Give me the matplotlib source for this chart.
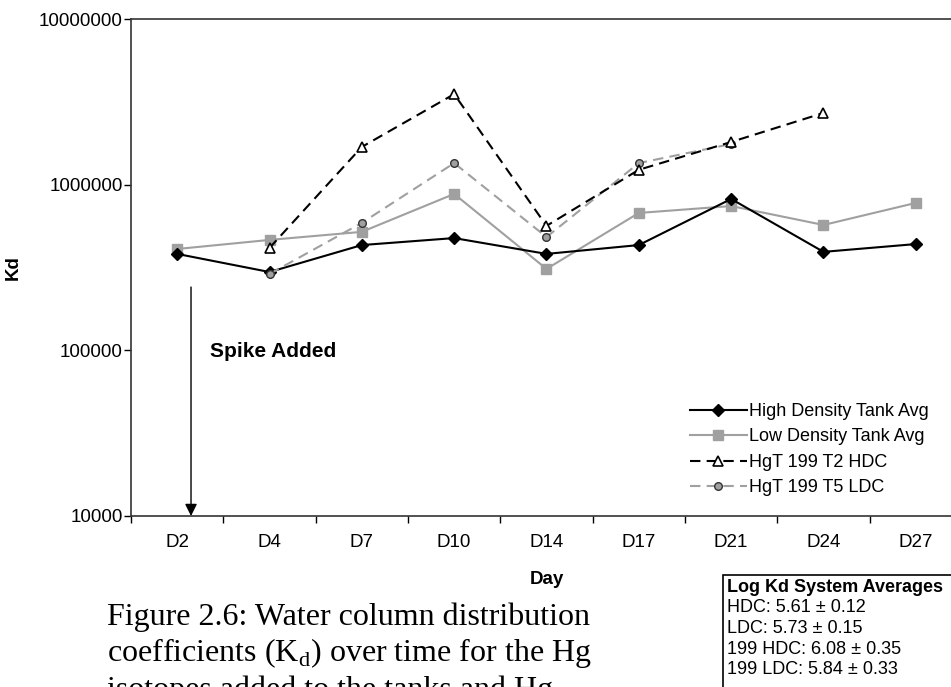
import matplotlib
matplotlib.use("Agg")
import matplotlib.pyplot as plt
import numpy as np
from matplotlib.patches import Rectangle

plt.rcParams['font.family'] = ['Liberation Sans', 'DejaVu Sans']
plt.rcParams['mathtext.fontset'] = 'custom'
plt.rcParams['mathtext.rm'] = 'Liberation Serif'

days = ["D2", "D4", "D7", "D10", "D14", "D17", "D21", "D24", "D27"]

high_density_avg = [382000, 297000, 432000, 476000, 382000, 432000, 820000, 393000, 438000]
low_density_avg = [409000, 464000, 519000, 879000, 310000, 675000, 743000, 571000, 776000]
hgt199_t2_hdc = [np.nan, 415000, 1690000, 3520000, 564000, 1230000, 1810000, 2710000, np.nan]
hgt199_t5_ldc = [np.nan, 289000, 588000, 1350000, 483000, 1350000, 1760000, np.nan, np.nan]

series_labels = ["High Density Tank Avg", "Low Density Tank Avg",
                 "HgT 199 T2 HDC", "HgT 199 T5 LDC"]

y_ticks = [10000, 100000, 1000000, 10000000]

stats_title = "Log Kd System Averages"
stats_lines = ["HDC: 5.61 \u00b1 0.12", "LDC: 5.73 \u00b1 0.15",
               "199 HDC: 6.08 \u00b1 0.35", "199 LDC: 5.84 \u00b1 0.33"]

caption_lines = ["Figure 2.6: Water column distribution",
                 r"coefficients (K$_{\rm d}$) over time for the Hg",
                 "isotopes added to the tanks and Hg"]

W, H = 951, 687
fig = plt.figure(figsize=(W / 100, H / 100), dpi=100)
ax = fig.add_axes([131 / W, 1 - 516 / H, (962 - 131) / W, (516 - 19) / H])

x = np.arange(len(days))
gray = '#a0a0a0'

ax.plot(x, high_density_avg, color='black', lw=1.5, marker='D', ms=6,
        mfc='black', mec='black', label=series_labels[0], zorder=4)
ax.plot(x, low_density_avg, color=gray, lw=1.5, marker='s', ms=7,
        mfc=gray, mec=gray, label=series_labels[1], zorder=3)
ax.plot(x, hgt199_t2_hdc, color='black', lw=1.5, ls=(0, (5, 3)), marker='^', ms=7,
        mfc='white', mec='black', mew=1.2, label=series_labels[2], zorder=5)
ax.plot(x, hgt199_t5_ldc, color=gray, lw=1.5, ls=(0, (5, 3)), marker='o', ms=5.5,
        mfc=gray, mec='#333333', mew=1.0, label=series_labels[3], zorder=4)

ax.set_yscale('log')
ax.set_ylim(10000, 10000000)
ax.set_yticks(y_ticks)
ax.set_yticklabels([str(v) for v in y_ticks])
ax.yaxis.set_minor_locator(matplotlib.ticker.NullLocator())
ax.tick_params(axis='y', which='major', direction='out', length=5, width=1,
               labelsize=13.5, pad=1)

ax.set_xlim(-0.5, len(days) - 0.5)
ax.set_xticks(np.arange(len(days) + 1) - 0.5)
ax.set_xticklabels([])
ax.set_xticks(x, minor=True)
ax.set_xticklabels(days, minor=True)
ax.tick_params(axis='x', which='major', direction='out', length=5, width=1)
ax.tick_params(axis='x', which='minor', length=0, labelsize=13.5, pad=13)

for side in ['left', 'bottom', 'top']:
    ax.spines[side].set_color('#333333')
    ax.spines[side].set_linewidth(1.2)
ax.spines['right'].set_visible(False)

ax.set_xlabel("Day", fontsize=13.5, fontweight='bold')
ax.xaxis.set_label_coords(0.5, -0.11)
ax.set_ylabel("Kd", fontsize=13.5, fontweight='bold')
ax.yaxis.set_label_coords(-0.131, 0.5)

# spike annotation
ax.annotate("", xy=(0.15, 10000), xytext=(0.15, 241000),
            arrowprops=dict(arrowstyle='-|>', color='black', lw=1,
                            mutation_scale=18, shrinkA=0, shrinkB=0))
ax.text(0.36, 98000, "Spike Added", fontsize=15, fontweight='bold',
        ha='left', va='center')

leg = ax.legend(loc='upper left', bbox_to_anchor=(690 / W, 1 - 403 / H),
                bbox_transform=fig.transFigure, frameon=False, fontsize=13,
                handlelength=3.15, handletextpad=0.12, labelspacing=0.47,
                borderpad=0, borderaxespad=0)

# statistics box
fig.patches.append(Rectangle((723 / W, 1 - 700 / H), 250 / W, 125 / H,
                             transform=fig.transFigure, fill=False,
                             edgecolor='black', lw=1.2, clip_on=False))
fig.text(727 / W, 1 - 587 / H, stats_title, fontsize=13, fontweight='bold',
         ha='left', va='center')
for i, s in enumerate(stats_lines):
    fig.text(727 / W, 1 - (608 + 20.5 * i) / H, s, fontsize=13,
             ha='left', va='center')

# figure caption
for i, s in enumerate(caption_lines):
    fig.text(107 / W, 1 - (625 + 36.5 * i) / H, s, fontsize=23,
             family='Liberation Serif', ha='left', va='baseline')

fig.savefig("out.png", dpi=100)
